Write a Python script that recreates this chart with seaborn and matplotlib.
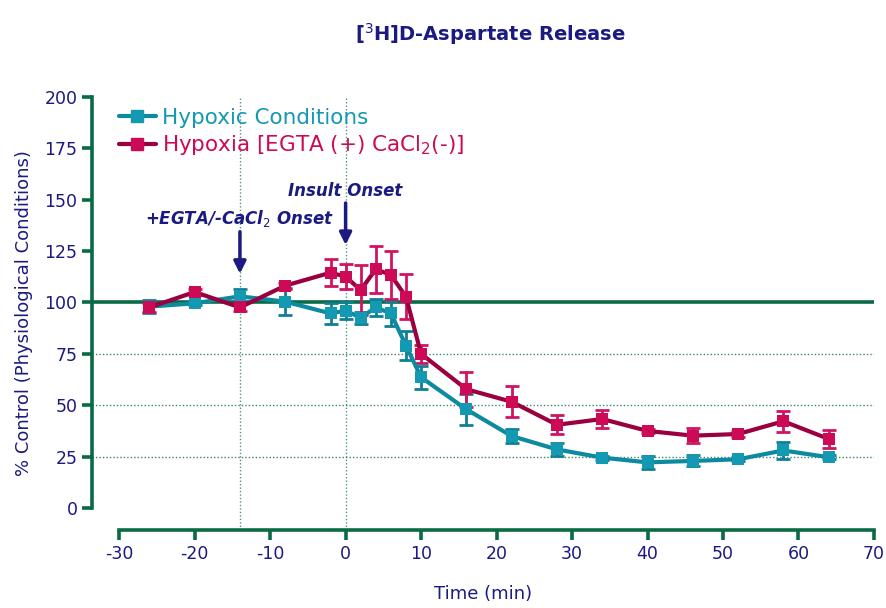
import numpy as np
import pandas as pd
import matplotlib
matplotlib.use("Agg")
import matplotlib.pyplot as plt
import seaborn as sns
from matplotlib.lines import Line2D

# time points (min)
time = [-26, -20, -14, -8, -2, 0, 2, 4, 6, 8, 10, 16, 22, 28, 34, 40, 46, 52, 58, 64]

# % control values
hypoxic = [98, 99.6, 103, 100.4, 94.7, 96, 92.6, 97.6, 94.7, 79, 63.6, 48, 35, 28.5, 24.5, 22.2, 22.9, 23.7, 28, 24.7]
hypoxic_err = [3, 1, 3.5, 6.6, 5, 4, 3, 4, 6, 7, 5.5, 7.5, 3.5, 3, 1, 3, 2.7, 1, 4, 1]

egta = [97.6, 105.1, 97.6, 108.2, 114.5, 112.6, 106, 116.2, 113.4, 102.8, 75, 57.8, 51.7, 40.5, 43.3, 37.5, 35.2, 36, 42.2, 33.6]
egta_err = [2, 1.5, 1.5, 1.5, 6.5, 6, 12, 11.5, 11.5, 11, 4.5, 8.5, 7.5, 4.7, 4.4, 1, 3.8, 1.5, 5, 4.2]

labels = ["Hypoxic Conditions", r"Hypoxia [EGTA (+) CaCl$_2$(-)]"]

navy = "#1a1a80"
green = "#0a6a45"
teal_line, teal_mark = "#0e8aa0", "#1499b2"
red_line, red_mark = "#9a0040", "#cc0a55"

sns.set_style("white")
plt.rcParams['font.family'] = ['DejaVu Sans']
plt.rcParams['axes.unicode_minus'] = False

df = pd.DataFrame({
    "time": time * 2,
    "value": hypoxic + egta,
    "group": [labels[0]] * len(time) + [labels[1]] * len(time),
})

fig = plt.figure(figsize=(8.87, 6.08), dpi=100)
ax = fig.add_axes([0.1037, 0.1283, 0.8816, 0.7122])

xmin, ymin = -33.6, -10.7
ax.set_xlim(xmin, 70)
ax.set_ylim(ymin, 200)

# reference grid
for yv in [25, 50, 75]:
    ax.axhline(yv, color=green, lw=1, ls=(0, (1, 1.5)), alpha=0.8, zorder=1)
for xv in [-14, 0]:
    ax.plot([xv, xv], [ymin, 200], color=green, lw=1, ls=(0, (1, 1.5)), alpha=0.7, zorder=1, clip_on=False)
ax.axhline(100, color=green, lw=2.6, zorder=2)

# error bars
ax.errorbar(time, hypoxic, yerr=hypoxic_err, fmt="none", ecolor="#0f7f96",
            elinewidth=2, capsize=5, capthick=2, zorder=3)
ax.errorbar(time, egta, yerr=egta_err, fmt="none", ecolor="#d01462",
            elinewidth=2, capsize=5, capthick=2, zorder=4)

sns.lineplot(data=df, x="time", y="value", hue="group", hue_order=labels,
             palette=[teal_line, red_line], marker="s", markersize=8.5,
             markeredgewidth=0, linewidth=3, ax=ax, legend=False, zorder=5)
for line, mc in zip(ax.lines[-2:], [teal_mark, red_mark]):
    line.set_markerfacecolor(mc)
    line.set_markeredgecolor(mc)

# legend
handles = [Line2D([], [], color=teal_line, lw=3, marker="s", ms=8, mfc=teal_mark, mec=teal_mark),
           Line2D([], [], color=red_line, lw=3, marker="s", ms=8, mfc=red_mark, mec=red_mark)]
leg = ax.legend(handles, labels, loc="upper left", bbox_to_anchor=(0.01, 1.02), frameon=False,
                fontsize=15.5, handlelength=1.7, handletextpad=0.3, labelspacing=0.25)
for txt, c in zip(leg.get_texts(), [teal_mark, red_mark]):
    txt.set_color(c)

# annotations
ax.annotate("Insult Onset", xy=(0, 128), xytext=(0, 150), ha="center", va="bottom",
            fontsize=12, fontstyle="italic", fontweight="bold", color=navy,
            arrowprops=dict(arrowstyle="-|>", color=navy, lw=2.5, mutation_scale=18,
                            shrinkA=0, shrinkB=0))
ax.annotate(r"+EGTA/-CaCl$_2$ Onset", xy=(-14, 114), xytext=(-14, 136), ha="center", va="bottom",
            fontsize=12, fontstyle="italic", fontweight="bold", color=navy,
            arrowprops=dict(arrowstyle="-|>", color=navy, lw=2.5, mutation_scale=18,
                            shrinkA=0, shrinkB=0))

# axes styling
sns.despine(ax=ax)
ax.spines["left"].set_bounds(0, 200)
ax.spines["bottom"].set_bounds(-30, 70)
for s in ["left", "bottom"]:
    ax.spines[s].set_color(green)
    ax.spines[s].set_linewidth(2.6)
ax.set_yticks(np.arange(0, 201, 25))
ax.set_xticks(np.arange(-30, 71, 10))
ax.tick_params(axis="both", direction="out", length=7, width=2.6, color=green,
               labelcolor=navy, labelsize=12.5, left=True, bottom=True)
ax.set_xlabel("Time (min)", color=navy, fontsize=13, labelpad=16)
ax.set_ylabel("% Control (Physiological Conditions)", color=navy, fontsize=13, labelpad=8)
fig.suptitle(r"[$^3$H]D-Aspartate Release", x=0.553, y=0.965, color=navy,
             fontsize=14, fontweight="bold")

fig.savefig("out.png", dpi=100)
